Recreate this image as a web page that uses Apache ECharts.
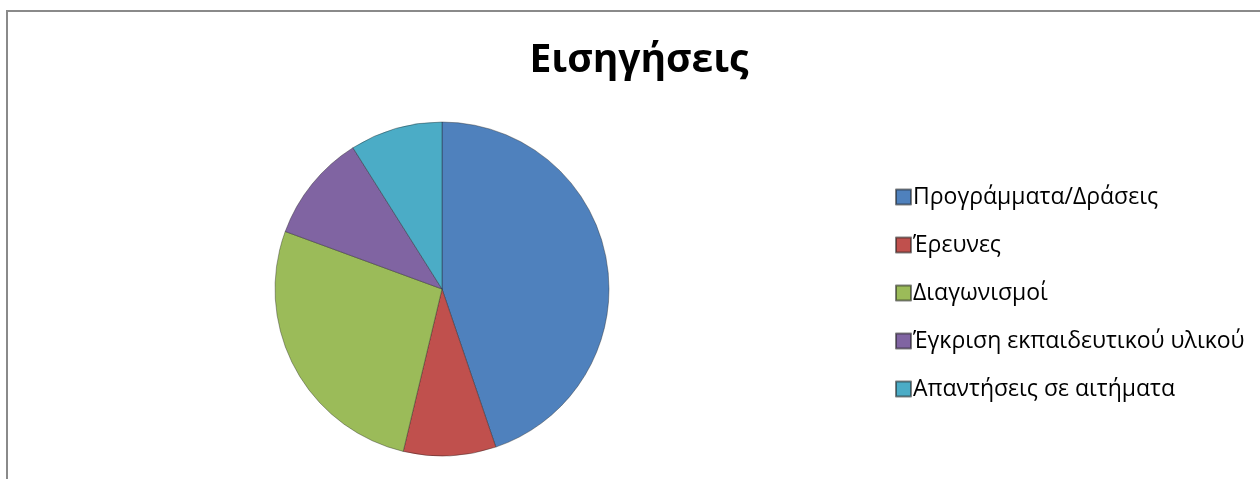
<!DOCTYPE html>
<html>
<head>
<meta charset="utf-8">
<script src="https://cdn.jsdelivr.net/npm/echarts@6/dist/echarts.min.js"></script>
<style>
	html, body { margin: 0; padding: 0; background: #fff; }
	#chartBox { width: 1260px; height: 479px; }
</style>
</head>
<body>
<div id="chartBox"></div>
<script>
// Κατηγορίες και τιμές (ποσοστά εκτιμημένα από την εικόνα)
var categories = ['Προγράμματα/Δράσεις', 'Έρευνες', 'Διαγωνισμοί', 'Έγκριση εκπαιδευτικού υλικού', 'Απαντήσεις σε αιτήματα'];
var values = [45, 9, 27, 10.5, 9];
var colors = ['#4f81bd', '#c0504d', '#9bbb59', '#8064a2', '#4bacc6'];

var chart = echarts.init(document.getElementById('chartBox'));

var pieData = [];
for (let i = 0; i < categories.length; i++) {
	pieData.push({ name: categories[i], value: values[i], itemStyle: { color: colors[i] } });
}

var chartOption = {
	animation: false,
	title: {
		text: 'Εισηγήσεις',
		left: 634,
		textAlign: 'center',
		top: 36,
		textStyle: {
			fontFamily: 'Open Sans',
			fontWeight: 'bold',
			fontSize: 39,
			color: '#000'
		}
	},
	legend: {
		orient: 'vertical',
		left: 890,
		top: 180,
		itemWidth: 15,
		itemHeight: 15,
		itemGap: 24,
		icon: 'rect',
		textStyle: {
			fontFamily: 'Open Sans',
			fontSize: 23,
			lineHeight: 24,
			color: '#000',
			padding: [0, 0, 0, -3]
		}
	},
	graphic: [{
		type: 'polyline',
		shape: { points: [[7, 479], [7, 11], [1260, 11]] },
		style: { stroke: '#8a8a8a', lineWidth: 2, fill: null }
	}],
	series: [{
		type: 'pie',
		center: [442, 289],
		radius: 167,
		startAngle: 90,
		clockwise: true,
		label: { show: false },
		labelLine: { show: false },
		itemStyle: {
			borderColor: 'rgba(30,30,30,0.55)',
			borderWidth: 0.7
		},
		emphasis: { disabled: true },
		data: pieData
	}]
};

chart.setOption(chartOption);
</script>
</body>
</html>
